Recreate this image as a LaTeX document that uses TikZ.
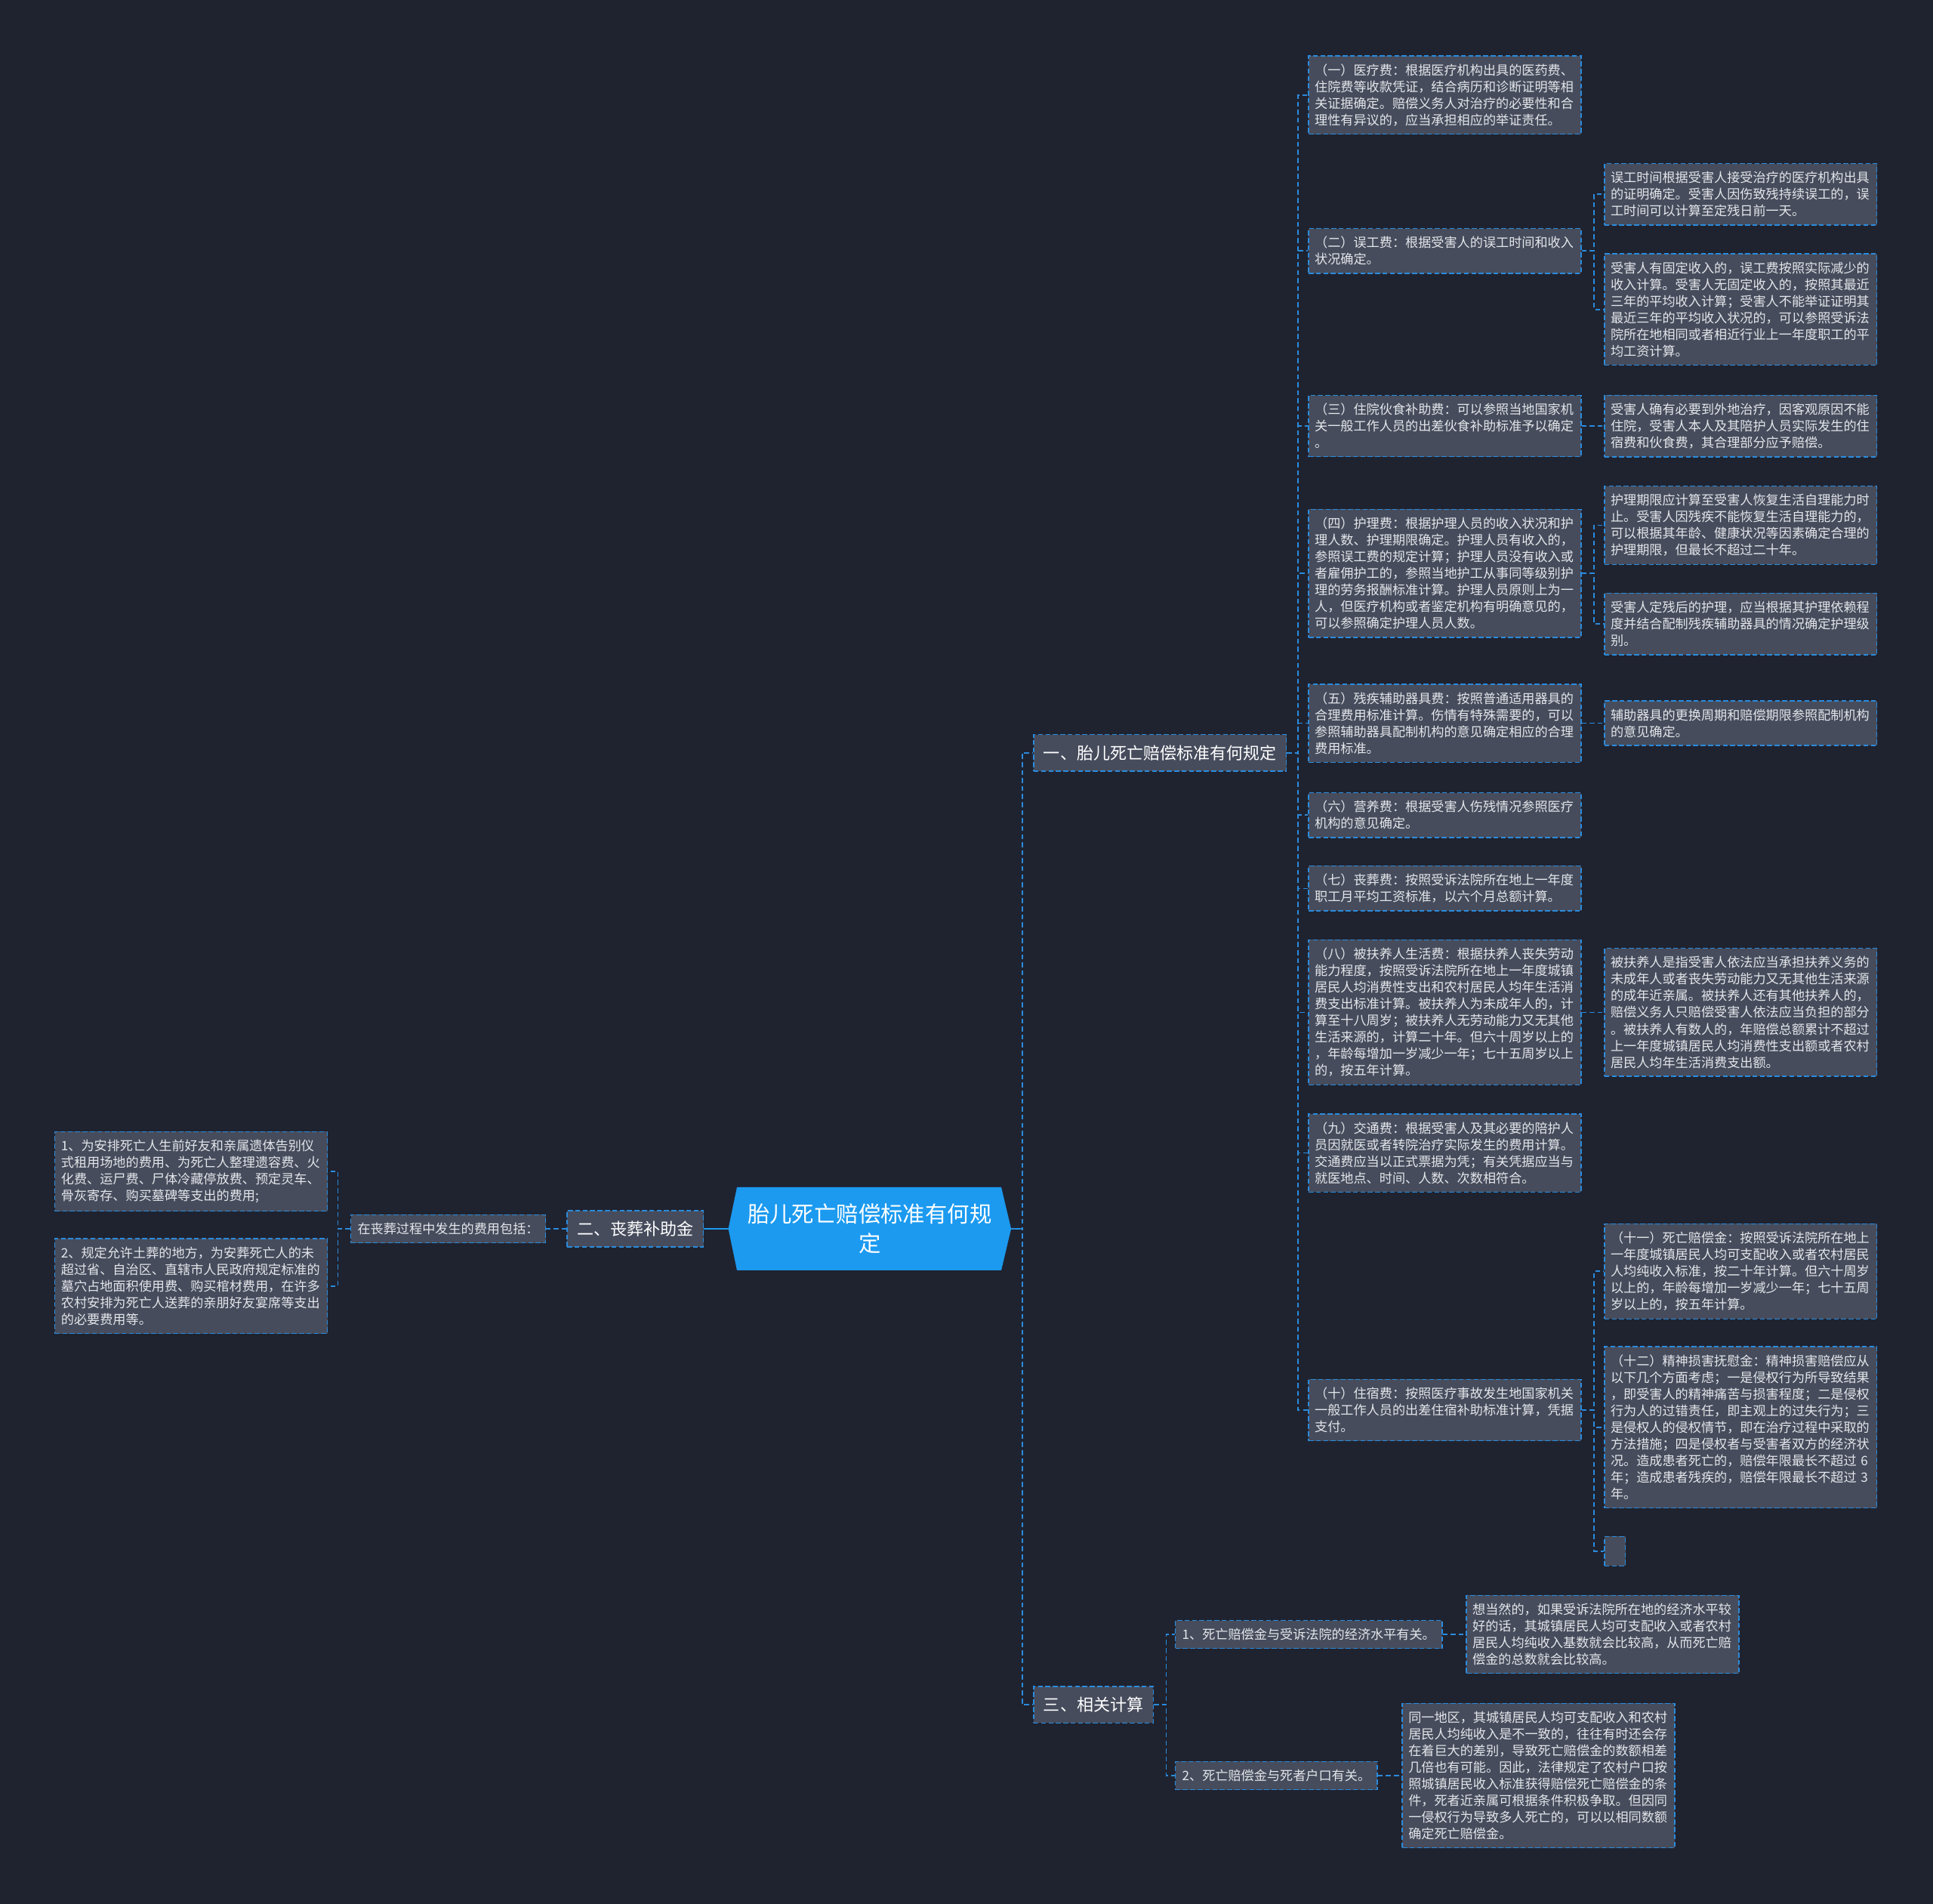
\documentclass[tikz,border=0pt]{standalone}
\usepackage{fontspec}
\setmainfont{Noto Sans CJK SC}
\usetikzlibrary{backgrounds}
\definecolor{bgdark}{HTML}{1F2330}
\definecolor{boxgray}{HTML}{464C5C}
\definecolor{linkblue}{HTML}{2A8BDD}
\definecolor{rootblue}{HTML}{1B9AF0}
\definecolor{textgray}{HTML}{E4E6EA}
\tikzset{
  link/.style={draw=linkblue,line width=1pt,dash pattern=on 4pt off 2.5pt},
  rootlink/.style={draw=rootblue,line width=1.6pt},
  leaf/.style={draw=linkblue,line width=0.9pt,dash pattern=on 4pt off 2pt,fill=boxgray,text=textgray,
    font=\fontsize{10.5}{13.5}\selectfont,text width=211pt,align=left,inner xsep=5pt,inner ysep=6.5pt},
  tag/.style={draw=linkblue,line width=0.9pt,dash pattern=on 4pt off 2pt,fill=boxgray,text=textgray,
    font=\fontsize{10.5}{13.5}\selectfont,inner xsep=5.5pt,inner ysep=6.5pt},
  stub/.style={draw=linkblue,line width=0.9pt,dash pattern=on 4pt off 2pt,fill=boxgray,
    minimum width=17pt,minimum height=24pt,inner sep=0pt},
  branch/.style={draw=linkblue,line width=0.9pt,dash pattern=on 4pt off 2pt,fill=boxgray,text=white,
    font=\fontsize{13.5}{16}\selectfont,inner xsep=8pt,inner ysep=8.5pt},
  rootbox/.style={text=white,font=\fontsize{18}{24}\selectfont,align=center,
    minimum width=229pt,minimum height=67pt,inner sep=0pt}
}
\begin{document}
\begin{tikzpicture}[x=1pt,y=-1pt]
  \begin{scope}[on background layer]
    \fill[bgdark] (0,0) rectangle (1568,1544);
  \end{scope}
  \useasboundingbox (0,0) rectangle (1568,1544);

  \node[rootbox] (root) at (705.5,996.5) {胎儿死亡赔偿标准有何规\\定};
  \begin{scope}[on background layer]
    \fill[rootblue] (root.west) -- ([xshift=7pt]root.north west) -- ([xshift=-8pt]root.north east)
      -- (root.east) -- ([xshift=-8pt]root.south east) -- ([xshift=7pt]root.south west) -- cycle;
  \end{scope}

  \node[branch,anchor=west] (one) at (838,610.5) {一、胎儿死亡赔偿标准有何规定};
  \node[branch,anchor=west] (three) at (838,1382.5) {三、相关计算};
  \node[branch,anchor=east] (two) at (571,996.5) {二、丧葬补助金};

  \node[tag,anchor=east] (cost) at (443,996.5) {在丧葬过程中发生的费用包括：};
  \node[leaf,anchor=east] (costa) at (266,950) {1、为安排死亡人生前好友和亲属遗体告别仪\\式租用场地的费用、为死亡人整理遗容费、火\\化费、运尸费、尸体冷藏停放费、预定灵车、\\骨灰寄存、购买墓碑等支出的费用;};
  \node[leaf,anchor=east] (costb) at (266,1043) {2、规定允许土葬的地方，为安葬死亡人的未\\超过省、自治区、直辖市人民政府规定标准的\\墓穴占地面积使用费、购买棺材费用，在许多\\农村安排为死亡人送葬的亲朋好友宴席等支出\\的必要费用等。};

  \node[leaf,anchor=west] (fee1) at (1061,77) {（一）医疗费：根据医疗机构出具的医药费、\\住院费等收款凭证，结合病历和诊断证明等相\\关证据确定。赔偿义务人对治疗的必要性和合\\理性有异议的，应当承担相应的举证责任。};
  \node[leaf,anchor=west] (fee2) at (1061,203.5) {（二）误工费：根据受害人的误工时间和收入\\状况确定。};
  \node[leaf,anchor=west] (fee3) at (1061,345.5) {（三）住院伙食补助费：可以参照当地国家机\\关一般工作人员的出差伙食补助标准予以确定\\。};
  \node[leaf,anchor=west] (fee4) at (1061,465) {（四）护理费：根据护理人员的收入状况和护\\理人数、护理期限确定。护理人员有收入的，\\参照误工费的规定计算；护理人员没有收入或\\者雇佣护工的，参照当地护工从事同等级别护\\理的劳务报酬标准计算。护理人员原则上为一\\人，但医疗机构或者鉴定机构有明确意见的，\\可以参照确定护理人员人数。};
  \node[leaf,anchor=west] (fee5) at (1061,586.5) {（五）残疾辅助器具费：按照普通适用器具的\\合理费用标准计算。伤情有特殊需要的，可以\\参照辅助器具配制机构的意见确定相应的合理\\费用标准。};
  \node[leaf,anchor=west] (fee6) at (1061,661) {（六）营养费：根据受害人伤残情况参照医疗\\机构的意见确定。};
  \node[leaf,anchor=west] (fee7) at (1061,720.5) {（七）丧葬费：按照受诉法院所在地上一年度\\职工月平均工资标准，以六个月总额计算。};
  \node[leaf,anchor=west] (fee8) at (1061,821) {（八）被扶养人生活费：根据扶养人丧失劳动\\能力程度，按照受诉法院所在地上一年度城镇\\居民人均消费性支出和农村居民人均年生活消\\费支出标准计算。被扶养人为未成年人的，计\\算至十八周岁；被扶养人无劳动能力又无其他\\生活来源的，计算二十年。但六十周岁以上的\\，年龄每增加一岁减少一年；七十五周岁以上\\的，按五年计算。};
  \node[leaf,anchor=west] (fee9) at (1061,935) {（九）交通费：根据受害人及其必要的陪护人\\员因就医或者转院治疗实际发生的费用计算。\\交通费应当以正式票据为凭；有关凭据应当与\\就医地点、时间、人数、次数相符合。};
  \node[leaf,anchor=west] (fee10) at (1061,1143.5) {（十）住宿费：按照医疗事故发生地国家机关\\一般工作人员的出差住宿补助标准计算，凭据\\支付。};

  \node[leaf,anchor=west] (fee2a) at (1301,157.5) {误工时间根据受害人接受治疗的医疗机构出具\\的证明确定。受害人因伤致残持续误工的，误\\工时间可以计算至定残日前一天。};
  \node[leaf,anchor=west] (fee2b) at (1301,251) {受害人有固定收入的，误工费按照实际减少的\\收入计算。受害人无固定收入的，按照其最近\\三年的平均收入计算；受害人不能举证证明其\\最近三年的平均收入状况的，可以参照受诉法\\院所在地相同或者相近行业上一年度职工的平\\均工资计算。};
  \node[leaf,anchor=west] (fee3a) at (1301,345.5) {受害人确有必要到外地治疗，因客观原因不能\\住院，受害人本人及其陪护人员实际发生的住\\宿费和伙食费，其合理部分应予赔偿。};
  \node[leaf,anchor=west] (fee4a) at (1301,426) {护理期限应计算至受害人恢复生活自理能力时\\止。受害人因残疾不能恢复生活自理能力的，\\可以根据其年龄、健康状况等因素确定合理的\\护理期限，但最长不超过二十年。};
  \node[leaf,anchor=west] (fee4b) at (1301,506) {受害人定残后的护理，应当根据其护理依赖程\\度并结合配制残疾辅助器具的情况确定护理级\\别。};
  \node[leaf,anchor=west] (fee5a) at (1301,586.5) {辅助器具的更换周期和赔偿期限参照配制机构\\的意见确定。};
  \node[leaf,anchor=west] (fee8a) at (1301,821) {被扶养人是指受害人依法应当承担扶养义务的\\未成年人或者丧失劳动能力又无其他生活来源\\的成年近亲属。被扶养人还有其他扶养人的，\\赔偿义务人只赔偿受害人依法应当负担的部分\\。被扶养人有数人的，年赔偿总额累计不超过\\上一年度城镇居民人均消费性支出额或者农村\\居民人均年生活消费支出额。};
  \node[leaf,anchor=west] (fee10a) at (1301,1031) {（十一）死亡赔偿金：按照受诉法院所在地上\\一年度城镇居民人均可支配收入或者农村居民\\人均纯收入标准，按二十年计算。但六十周岁\\以上的，年龄每增加一岁减少一年；七十五周\\岁以上的，按五年计算。};
  \node[leaf,anchor=west] (fee10b) at (1301,1157.5) {（十二）精神损害抚慰金：精神损害赔偿应从\\以下几个方面考虑；一是侵权行为所导致结果\\，即受害人的精神痛苦与损害程度；二是侵权\\行为人的过错责任，即主观上的过失行为；三\\是侵权人的侵权情节，即在治疗过程中采取的\\方法措施；四是侵权者与受害者双方的经济状\\况。造成患者死亡的，赔偿年限最长不超过 6\\年；造成患者残疾的，赔偿年限最长不超过 3\\年。};
  \node[stub,anchor=west] (fee10c) at (1301,1258) {};

  \node[tag,anchor=west] (calc1) at (953,1325.5) {1、死亡赔偿金与受诉法院的经济水平有关。};
  \node[tag,anchor=west] (calc2) at (953,1440) {2、死亡赔偿金与死者户口有关。};
  \node[leaf,anchor=west] (calc1a) at (1189,1325.5) {想当然的，如果受诉法院所在地的经济水平较\\好的话，其城镇居民人均可支配收入或者农村\\居民人均纯收入基数就会比较高，从而死亡赔\\偿金的总数就会比较高。};
  \node[leaf,anchor=west] (calc2a) at (1137,1440) {同一地区，其城镇居民人均可支配收入和农村\\居民人均纯收入是不一致的，往往有时还会存\\在着巨大的差别，导致死亡赔偿金的数额相差\\几倍也有可能。因此，法律规定了农村户口按\\照城镇居民收入标准获得赔偿死亡赔偿金的条\\件，死者近亲属可根据条件积极争取。但因同\\一侵权行为导致多人死亡的，可以以相同数额\\确定死亡赔偿金。};

  \draw[rootlink] (root.west) -- (two.east);
  \draw[rootlink] (root.east) -- ++(9,0);
  \foreach \c in {one,three}
    \draw[link] (root.east) -- ++(9,0) |- (\c.west);
  \draw[link] (two.west) -- (cost.east);
  \foreach \c in {costa,costb}
    \draw[link] (cost.west) -- ++(-10,0) |- (\c.east);
  \foreach \i in {1,...,10}
    \draw[link] (one.east) -- ++(9,0) |- (fee\i.west);
  \foreach \c in {fee2a,fee2b}
    \draw[link] (fee2.east) -- ++(10,0) |- (\c.west);
  \draw[link] (fee3.east) -- (fee3a.west);
  \foreach \c in {fee4a,fee4b}
    \draw[link] (fee4.east) -- ++(10,0) |- (\c.west);
  \draw[link] (fee5.east) -- (fee5a.west);
  \draw[link] (fee8.east) -- (fee8a.west);
  \foreach \c in {fee10a,fee10b,fee10c}
    \draw[link] (fee10.east) -- ++(10,0) |- (\c.west);
  \foreach \c in {calc1,calc2}
    \draw[link] (three.east) -- ++(10,0) |- (\c.west);
  \draw[link] (calc1.east) -- (calc1a.west);
  \draw[link] (calc2.east) -- (calc2a.west);
\end{tikzpicture}
\end{document}
